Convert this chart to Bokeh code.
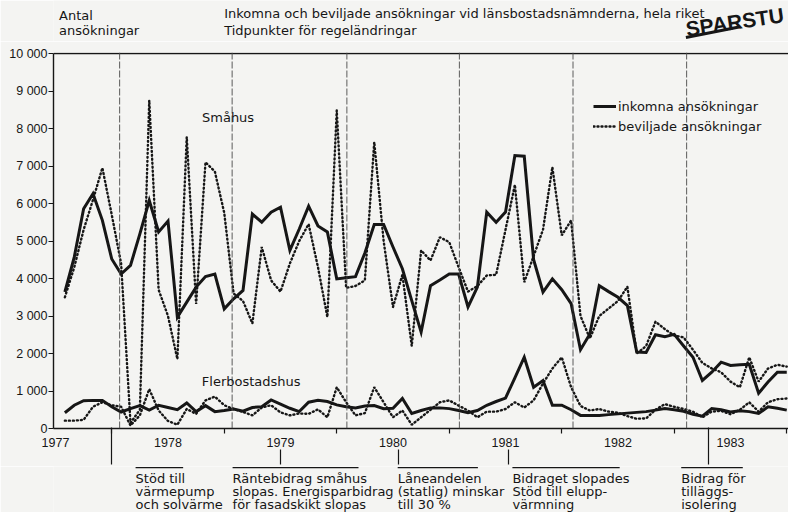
import numpy as np
import pandas as pd
from bokeh.plotting import figure
from bokeh.layouts import column
from bokeh.models import (Range1d, FixedTicker, Span, Label, Legend, LegendItem,
                          LinearAxis)
from bokeh.embed import file_html
from bokeh.resources import INLINE

# ---------------- data ----------------
months = pd.date_range("1977-01-01", periods=78, freq="MS")

smahus_inkomna = [3640, 4570, 5860, 6260, 5550, 4520, 4120, 4350, 5190, 6080, 5240, 5530,
                  2970, 3370, 3770, 4050, 4120, 3190, 3460, 3680, 5720, 5500, 5770, 5900,
                  4750, 5320, 5930, 5400, 5240, 3990, 4020, 4050, 4680, 5440, 5440, 4840,
                  4260, 3410, 2570, 3810, 3960, 4120, 4120, 3240, 3770, 5770, 5500, 5770,
                  7280, 7260, 4500, 3640, 3990, 3700, 3330, 2100, 2520, 3810, 3650, 3500,
                  3280, 2040, 2030, 2500, 2450, 2510, 2200, 1900, 1280, 1500, 1770, 1680,
                  1700, 1710, 940, 1240, 1500, 1500]

smahus_beviljade = [3500, 4300, 5300, 6100, 6950, 5700, 4400, 150, 500, 8750, 3700, 3000,
                    1850, 7770, 3320, 7100, 6850, 5750, 3600, 3400, 2800, 4840, 3950, 3650,
                    4400, 5000, 5450, 4300, 2970, 8480, 3750, 3800, 3950, 7640, 5000, 3240,
                    4100, 2200, 4750, 4480, 5100, 4970, 4300, 3650, 3800, 4080, 4100, 5300,
                    6500, 3900, 4600, 5300, 6970, 5150, 5550, 3000, 2400, 3000, 3200, 3400,
                    3780, 2000, 2200, 2850, 2650, 2480, 2430, 2100, 1750, 1600, 1500, 1250,
                    1100, 1900, 1250, 1600, 1700, 1650]

fler_inkomna = [420, 620, 740, 750, 750, 580, 440, 530, 610, 490, 620, 560,
                500, 680, 450, 610, 450, 480, 520, 460, 560, 580, 760, 650,
                540, 450, 700, 750, 720, 630, 580, 550, 600, 610, 530, 540,
                800, 400, 480, 550, 550, 530, 480, 420, 480, 620, 720, 810,
                1350, 1900, 1100, 1280, 620, 620, 500, 350, 350, 350, 370, 390,
                410, 430, 450, 490, 530, 500, 460, 380, 330, 530, 500, 440,
                470, 450, 400, 580, 540, 490]

fler_beviljade = [210, 210, 230, 580, 700, 620, 580, 80, 350, 1050, 480, 200,
                  100, 520, 390, 750, 850, 620, 520, 440, 350, 560, 620, 430,
                  350, 400, 390, 510, 300, 1100, 700, 350, 410, 1100, 700, 300,
                  480, 100, 300, 500, 700, 750, 610, 480, 300, 450, 450, 520,
                  700, 560, 750, 1200, 1600, 1900, 1100, 600, 480, 520, 450, 420,
                  330, 260, 270, 500, 650, 580, 520, 450, 300, 450, 470, 380,
                  500, 700, 450, 700, 780, 800]

years = [1977, 1978, 1979, 1980, 1981, 1982, 1983]
y_ticks = [0, 1000, 2000, 3000, 4000, 5000, 6000, 7000, 8000, 9000, 10000]
y_tick_labels = ["0", "1 000", "2 000", "3 000", "4 000", "5 000", "6 000",
                 "7 000", "8 000", "9 000", "10 000"]

# dates of the thin vertical lines in the chart
period_lines = [1977.57, 1978.57, 1979.59, 1980.59, 1981.6, 1982.61]

# regulation changes
reg_dates = [1977.5, 1979.0, 1980.05, 1981.03, 1982.8]
reg_from_axis = [True, False, False, False, True]
reg_texts = [["Stöd till", "värmepump", "och solvärme"],
             ["Räntebidrag småhus", "slopas. Energisparbidrag", "för fasadskikt slopas"],
             ["Låneandelen", "(statlig) minskar", "till 30 %"],
             ["Bidraget slopades", "Stöd till elupp-", "värmning"],
             ["Bidrag för", "tilläggs-", "isolering"]]

title_lines = ["Inkomna och beviljade ansökningar vid länsbostadsnämnderna, hela riket",
               "Tidpunkter för regeländringar"]
ylabel_lines = ["Antal", "ansökningar"]
series_names = ["inkomna ansökningar", "beviljade ansökningar"]
logo_text = "SPARSTU"

x = (months.year + months.month / 12.0).to_numpy()

# ---------------- styling ----------------
BG = "#f4f4f2"
INK = "#161616"
TXT = "DejaVu Sans"
NUM = "Liberation Sans"
W = 788
TOP_H = 41          # header strip height
MAIN_H = 425        # main figure height (frame 52..428 on page)
BOTTOM_PANEL = MAIN_H - 11 - 376
BOT_H = 512 - TOP_H - MAIN_H

def X(px):          # page x pixel -> year
    return 1977 + (px - 55) / 112.5

def style_blank(f):
    f.background_fill_color = BG
    f.border_fill_color = BG
    f.outline_line_color = None
    f.grid.visible = False

def lab(f, x0, y0, text, size="13px", font=TXT, align="left", baseline="middle",
        angle=0.0, style="normal"):
    f.add_layout(Label(x=x0, y=y0, text=text, text_font=font, text_font_size=size,
                       text_color=INK, text_align=align, text_baseline=baseline,
                       angle=angle, text_font_style=style))

# ---------------- header strip ----------------
top = figure(width=W, height=TOP_H, output_backend="svg", toolbar_location=None,
             x_range=Range1d(0, W), y_range=Range1d(-TOP_H, 0),
             x_axis_type=None, y_axis_type=None, min_border=0)
style_blank(top)
lab(top, 6, -15, ylabel_lines[0])
lab(top, 6, -29.5, ylabel_lines[1])
lab(top, 183, -13, title_lines[0])
lab(top, 183, -29.5, title_lines[1])
lab(top, 678, -28.5, logo_text, size="21px", font=NUM, baseline="alphabetic",
    angle=0.145, style="bold")
top.segment(x0=[678], y0=[-37], x1=[735], y1=[-26.5], line_color=INK, line_width=3)

# ---------------- main chart ----------------
p = figure(width=W, height=MAIN_H, output_backend="svg", toolbar_location=None,
           x_range=Range1d(X(53), X(788)), y_range=Range1d(0, 10000 + 1000 / 37.5),
           min_border_left=53, min_border_right=0, min_border_top=11,
           min_border_bottom=BOTTOM_PANEL)
style_blank(p)

p.yaxis.ticker = FixedTicker(ticks=y_ticks)
p.yaxis.major_label_overrides = {t: l for t, l in zip(y_ticks, y_tick_labels)}
p.yaxis.major_label_text_font = NUM
p.yaxis.major_label_text_font_size = "12.5px"
p.yaxis.major_label_text_color = INK
p.yaxis.major_label_standoff = 1
p.yaxis.major_tick_out = 5
p.yaxis.major_tick_in = 0
p.yaxis.major_tick_line_color = INK
p.yaxis.major_tick_line_width = 1.2
p.yaxis.minor_tick_line_color = None
p.yaxis.axis_line_color = INK
p.yaxis.axis_line_width = 1.4
p.yaxis.bounds = (0, 10000)

p.xaxis.ticker = FixedTicker(ticks=years, minor_ticks=[yv + 0.5 for yv in years])
p.xaxis.major_label_overrides = {yv: str(yv) for yv in years}
p.xaxis.major_label_text_font = NUM
p.xaxis.major_label_text_font_size = "12.5px"
p.xaxis.major_label_text_color = INK
p.xaxis.major_label_standoff = 4
p.xaxis.major_tick_line_color = None
p.xaxis.major_tick_out = 0
p.xaxis.major_tick_in = 0
p.xaxis.minor_tick_out = 5
p.xaxis.minor_tick_in = 0
p.xaxis.minor_tick_line_color = INK
p.xaxis.minor_tick_line_width = 1.2
p.xaxis.axis_line_color = INK
p.xaxis.axis_line_width = 1.6

# second bottom axis: connector lines of the regulation-change notes
H1 = 22.5  # measured height of the year-label axis panel
ax2 = LinearAxis(ticker=FixedTicker(ticks=[d for d, f in zip(reg_dates, reg_from_axis) if f],
                                    minor_ticks=[d for d, f in zip(reg_dates, reg_from_axis) if not f]),
                 major_label_overrides={d: "" for d in reg_dates},
                 major_label_text_font_size="0px", major_label_standoff=0,
                 axis_line_color=None,
                 major_tick_in=int(round(H1)), major_tick_out=int(BOTTOM_PANEL - H1),
                 minor_tick_in=0, minor_tick_out=int(BOTTOM_PANEL - H1),
                 major_tick_line_color=INK, minor_tick_line_color=INK,
                 major_tick_line_width=1.2, minor_tick_line_width=1.2)
p.add_layout(ax2, "below")

p.add_layout(Span(location=10000, dimension="width", line_color=INK, line_width=1.4))
for d in period_lines:
    p.add_layout(Span(location=d, dimension="height", line_color="#4a4a4a",
                      line_width=0.9, line_dash="7 2"))

dot_kw = dict(line_color=INK, line_width=2.4, line_dash="1 3", line_cap="round")
sol_kw = dict(line_color=INK, line_width=3, line_join="miter")
r_dot = p.line(x, smahus_beviljade, **dot_kw)
p.line(x, fler_beviljade, **dot_kw)
r_sol = p.line(x, smahus_inkomna, **sol_kw)
p.line(x, fler_inkomna, **sol_kw)

leg = Legend(items=[LegendItem(label=series_names[0], renderers=[r_sol]),
                    LegendItem(label=series_names[1], renderers=[r_dot])],
             location=(540, 292), orientation="vertical",
             padding=0, margin=0, spacing=0, glyph_width=23, glyph_height=20,
             label_height=20, label_standoff=2,
             label_text_font=TXT, label_text_font_size="13px", label_text_color=INK,
             border_line_color=None, background_fill_alpha=0)
p.add_layout(leg)

def Yv(py):  # page y pixel -> value in main chart
    return (428 - py) * 1000 / 37.5

lab(p, X(201.5), Yv(116.7), "Småhus")
lab(p, X(201.3), Yv(381), "Flerbostadshus")

# ---------------- bottom strip: notes ----------------
bot = figure(width=W, height=BOT_H, output_backend="svg", toolbar_location=None,
             x_range=Range1d(X(0), X(W)), y_range=Range1d(-512, -(512 - BOT_H)),
             x_axis_type=None, y_axis_type=None, min_border=0)
style_blank(bot)

note_layout = [(88, 139), (192, 327), (369, 455), (492, 607), (673, 739)]  # text left, bar right
bar_y = -(512 - BOT_H + 1.2)
bot.segment(x0=[X(a) for a, b in note_layout], y0=[bar_y] * 5,
            x1=[X(b) for a, b in note_layout], y1=[bar_y] * 5,
            line_color=INK, line_width=1.2)
for lines, (lx, rx) in zip(reg_texts, note_layout):
    for k, t in enumerate(lines):
        lab(bot, X(lx), -(478 + 12.8 * k), t)

layout = column(top, p, bot, spacing=0)
open("out.html", "w").write(file_html(layout, INLINE))
